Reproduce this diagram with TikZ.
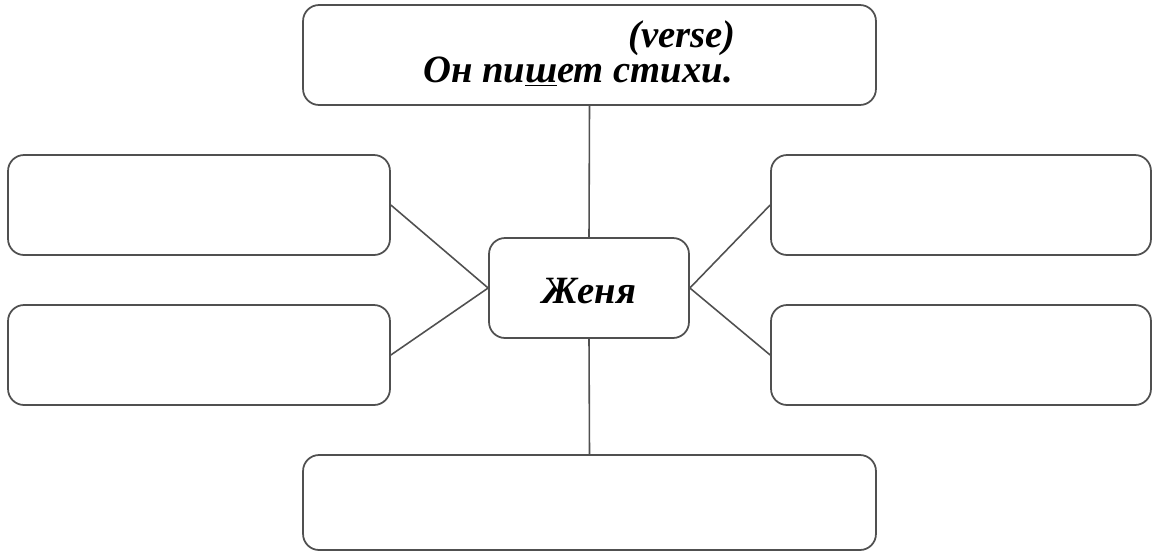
\documentclass[tikz,border=0pt]{standalone}
\usepackage{fontspec}
\setmainfont{Liberation Serif}
\usepackage{tikz}
\usetikzlibrary{positioning}
\definecolor{framegray}{RGB}{80,80,80}

\tikzset{
  cell/.style={draw=framegray, line width=1pt, rounded corners=0.32cm, fill=white},
  hand/.style={font=\fontsize{22}{24}\selectfont\bfseries\itshape, inner sep=0pt},
  link/.style={draw=framegray, line width=0.9pt}
}

\begin{document}
\begin{tikzpicture}[x=0.02cm, y=-0.02cm]
\useasboundingbox (0,0) rectangle (1152,552);

% Boxes
\node[cell, minimum width=11.46cm, minimum height=2cm] (poem) at (589.5,55) {};
\node[cell, minimum width=4cm, minimum height=2cm] (name) at (589,288) {};
\node[cell, minimum width=7.64cm, minimum height=2cm] (lefttop) at (199,205) {};
\node[cell, minimum width=7.64cm, minimum height=2cm] (leftbot) at (199,355) {};
\node[cell, minimum width=7.6cm, minimum height=2cm] (righttop) at (961,205) {};
\node[cell, minimum width=7.6cm, minimum height=2cm] (rightbot) at (961,355) {};
\node[cell, minimum width=11.46cm, minimum height=1.9cm] (bottom) at (589.5,502.5) {};

% Texts
\node[hand] (gloss) at (682,38) {(verse)};
\node[hand] (sentence) at (578,72) {Он пи\underline{ш}ет стихи.};
\node[hand] (zhenya) at (589,291) {Женя};

% Connectors
\draw[link] (poem.south) -- (name.north);
\draw[link] (name.south) -- (bottom.north);
\draw[link] (lefttop.east) -- (name.west);
\draw[link] (leftbot.east) -- (name.west);
\draw[link] (righttop.west) -- (name.east);
\draw[link] (rightbot.west) -- (name.east);
\end{tikzpicture}
\end{document}
